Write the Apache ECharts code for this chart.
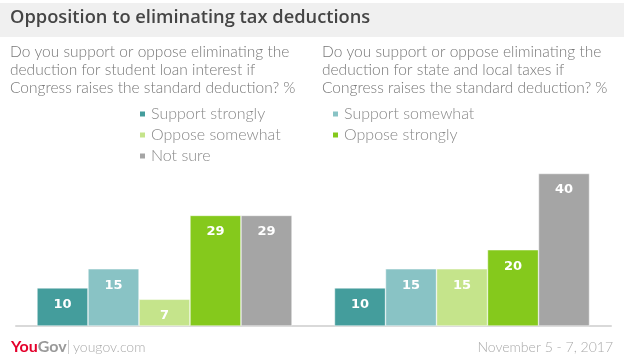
<!DOCTYPE html>
<html><head><meta charset="utf-8">
<script src="https://cdn.jsdelivr.net/npm/echarts@6/dist/echarts.min.js"></script>
<style>html,body{margin:0;padding:0;background:#fff}#c{width:624px;height:358px}</style>
</head><body><div id="c"></div>
<script>
const seriesNames = ['Support strongly','Support somewhat','Oppose somewhat','Oppose strongly','Not sure'];
const colors = ['#449d9c','#89c3c5','#c5e48b','#85c91c','#a5a5a5'];
const studentLoan = [10,15,7,29,29];
const stateLocal = [10,15,15,20,40];
const titleText = 'Opposition to eliminating tax deductions';
const subLeft = 'Do you support or oppose eliminating the\ndeduction for student loan interest if\nCongress raises the standard deduction? %';
const subRight = 'Do you support or oppose eliminating the\ndeduction for state and local taxes if\nCongress raises the standard deduction? %';
const dateText = 'November 5 - 7, 2017';

const FONT = 'Lato, "Open Sans", sans-serif';
const chart = echarts.init(document.getElementById('c'));
const series = [];
[studentLoan, stateLocal].forEach((vals, g) => {
  seriesNames.forEach((n, i) => {
    series.push({
      name: n, type: 'bar', xAxisIndex: g, yAxisIndex: g,
      data: [vals[i]], barWidth: 51, barGap: '0%',
      itemStyle: {color: colors[i], borderColor: '#ffffff', borderWidth: 0.5},
      label: {show: true, position: 'insideTop', distance: 10, color: '#fff',
        fontFamily: '"DejaVu Sans", sans-serif', fontWeight: 'bold', fontSize: 13},
      animation: false
    });
  });
});
const legendBase = {orient: 'vertical', padding: 0, itemWidth: 7, itemHeight: 7, itemGap: 5, icon: 'rect',
  textStyle: {color: '#888', fontSize: 16, fontFamily: FONT, fontWeight: 300}};
chart.setOption({
  animation: false,
  graphic: [
    {type: 'rect', shape: {x: 0, y: 3, width: 624, height: 34}, style: {fill: '#f0f0f0'}, z: -1},
    {type: 'text', left: 10, top: 9, style: {text: titleText, fill: '#454545', font: '600 18.3px "Open Sans", sans-serif'}},
    {type: 'text', left: 10, top: 43, style: {text: subLeft, fill: '#777', font: '300 15.5px ' + FONT, lineHeight: 18}},
    {type: 'text', left: 322, top: 43, style: {text: subRight, fill: '#777', font: '300 15.5px ' + FONT, lineHeight: 18}},
    {type: 'text', left: 11, top: 339, style: {rich: {a: {fill: '#e4002b', font: 'bold 16px ' + FONT}, b: {fill: '#999', font: 'bold 16px ' + FONT}}, text: '{a|You}{b|Gov}'}},
    {type: 'rect', shape: {x: 68, y: 340, width: 1, height: 14}, style: {fill: '#ccc'}},
    {type: 'text', left: 73, top: 340, style: {text: 'yougov.com', fill: '#aaa', font: '300 14px ' + FONT}},
    {type: 'text', right: 11, top: 340, style: {text: dateText, fill: '#aaa', font: '300 14px ' + FONT}}
  ],
  legend: [
    Object.assign({left: 138, top: 106, data: ['Support strongly','Oppose somewhat','Not sure']}, legendBase),
    Object.assign({left: 331, top: 106, data: ['Support somewhat','Oppose strongly']}, legendBase)
  ],
  grid: [
    {left: 16, width: 297, top: 173.5, bottom: 32},
    {left: 313, width: 298, top: 173.5, bottom: 32}
  ],
  xAxis: [0,1].map(i => ({gridIndex: i, type: 'category', data: [''],
    axisLine: {lineStyle: {color: '#d9d9d9', width: 2}}, axisTick: {show: false}, axisLabel: {show: false}})),
  yAxis: [0,1].map(i => ({gridIndex: i, type: 'value', min: 0, max: 40, show: false, splitLine: {show: false}})),
  series: series
});
</script></body></html>
